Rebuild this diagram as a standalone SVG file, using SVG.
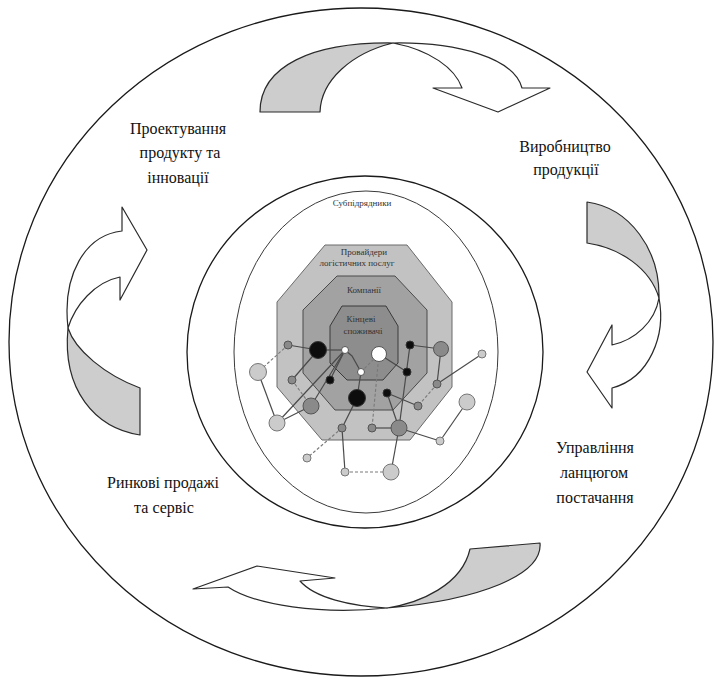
<svg xmlns="http://www.w3.org/2000/svg" width="715" height="680" viewBox="0 0 715 680">
  <defs>
    <style>
      .ring { fill: none; stroke: #1a1a1a; stroke-width: 1.3; }
      .ring-thin { fill: none; stroke: #3a3a3a; stroke-width: 1; }
      .back { fill: #cdcdcd; stroke: #2a2a2a; stroke-width: 1.2; stroke-linejoin: round; }
      .front { fill: #ffffff; stroke: #2a2a2a; stroke-width: 1.2; stroke-linejoin: round; }
      .label { font-family: "Liberation Serif", "Times New Roman", serif; font-size: 16px; fill: #111; text-anchor: middle; }
      .small { font-family: "Liberation Serif", "Times New Roman", serif; font-size: 9px; fill: #333; text-anchor: middle; }
      .oct1 { fill: #c2c2c2; stroke: #6a6a6a; stroke-width: 1; }
      .oct2 { fill: #a2a2a2; stroke: #4a4a4a; stroke-width: 1; }
      .oct3 { fill: #8d8d8d; stroke: #3a3a3a; stroke-width: 1; }
      .link { stroke: #4a4a4a; stroke-width: 1.2; fill: none; }
      .dash { stroke: #7a7a7a; stroke-width: 1.1; fill: none; stroke-dasharray: 3 2; }
      .n-black { fill: #0d0d0d; stroke: #333; stroke-width: 1; }
      .n-white { fill: #ffffff; stroke: #555; stroke-width: 1; }
      .n-mid { fill: #8a8a8a; stroke: #555; stroke-width: 1; }
      .n-light { fill: #cbcbcb; stroke: #777; stroke-width: 1; }
    </style>
  </defs>

  <rect width="715" height="680" fill="#ffffff"/>

  <!-- outer boundary -->
  <ellipse class="ring" cx="361" cy="342" rx="352" ry="334"/>

  <!-- cycle arrows -->
  <g id="arrow-top">
    <path class="back" d="M260,112 C260,66 312,42 393,43 C352,53 321,80 320,112 Z"/>
    <path class="front" d="M393,43 C458,42 514,58 522,88 L550,88 L498,112 L433,88 L462,88 C455,68 430,50 393,43 Z"/>
  </g>
  <g id="arrow-right">
    <path class="back" d="M587,202 L587,243 C620,248 650,268 659,298 C660,250 630,208 587,202 Z"/>
    <path class="front" d="M659,298 C666,335 650,378 612,388 L612,408 L587,372 L612,325 L612,345 C635,340 655,322 659,298 Z"/>
  </g>
  <g id="arrow-bottom">
    <path class="back" d="M470,549 L540,543 C543,575 480,600 387,608 C420,603 462,585 470,549 Z"/>
    <path class="front" d="M387,608 C320,615 255,605 228,587 L193,589 L257,566 L335,578 L300,581 C315,598 350,606 387,608 Z"/>
  </g>
  <g id="arrow-left">
    <path class="back" d="M140,388 L140,435 C95,428 62,390 68,328 C75,350 105,375 140,388 Z"/>
    <path class="front" d="M68,328 C62,275 85,235 122,231 L122,207 L147,250 L120,300 L120,277 C95,282 75,305 68,328 Z"/>
  </g>

  <!-- stage labels -->
  <g id="stage-design">
    <text class="label" x="178" y="134">Проектування</text>
    <text class="label" x="180" y="158">продукту та</text>
    <text class="label" x="178" y="183">інновації</text>
  </g>
  <g id="stage-production">
    <text class="label" x="565" y="152">Виробництво</text>
    <text class="label" x="566" y="175">продукції</text>
  </g>
  <g id="stage-supply">
    <text class="label" x="595" y="453">Управління</text>
    <text class="label" x="594" y="478">ланцюгом</text>
    <text class="label" x="595" y="503">постачання</text>
  </g>
  <g id="stage-sales">
    <text class="label" x="163" y="488">Ринкові продажі</text>
    <text class="label" x="164" y="513">та сервіс</text>
  </g>

  <!-- network core -->
  <g id="ring-middle">
    <ellipse class="ring" cx="365" cy="352" rx="178" ry="176"/>
  </g>
  <g id="ring-subcontractors">
    <ellipse class="ring-thin" cx="366" cy="352" rx="132" ry="161"/>
    <text class="small" x="362" y="206" fill="#555">Субпідрядники</text>
  </g>
  <g id="tier-logistics">
    <polygon class="oct1" points="325,245 407,245 452,302 452,387 410,440 322,440 277,387 277,302"/>
    <text class="small" x="364" y="255">Провайдери</text>
    <text class="small" x="357" y="266">логістичних послуг</text>
  </g>
  <g id="tier-companies">
    <polygon class="oct2" points="337,276 395,276 427,310 427,373 393,410 335,410 303,373 303,310"/>
    <text class="small" x="364" y="293">Компанії</text>
  </g>
  <g id="tier-consumers">
    <polygon class="oct3" points="342,306 386,306 398,326 398,363 383,380 347,380 330,363 330,326"/>
    <text class="small" x="361" y="322">Кінцеві</text>
    <text class="small" x="363" y="334">споживачі</text>
  </g>

  <!-- links between network members -->
  <g id="connectors">
    <line class="link" x1="288" y1="345" x2="318" y2="350"/>
    <line class="link" x1="318" y1="350" x2="345" y2="350"/>
    <line class="link" x1="258" y1="372" x2="277" y2="423"/>
    <line class="link" x1="318" y1="350" x2="292" y2="380"/>
    <line class="link" x1="345" y1="350" x2="277" y2="423"/>
    <line class="link" x1="345" y1="350" x2="311" y2="406"/>
    <line class="link" x1="345" y1="350" x2="330" y2="380"/>
    <line class="link" x1="277" y1="423" x2="311" y2="406"/>
    <polyline class="link" points="345,350 352,356 361,372"/>
    <line class="link" x1="379" y1="354" x2="407" y2="372"/>
    <line class="link" x1="361" y1="372" x2="357" y2="398"/>
    <line class="link" x1="357" y1="398" x2="342" y2="428"/>
    <line class="link" x1="342" y1="428" x2="345" y2="472"/>
    <line class="link" x1="372" y1="428" x2="399" y2="428"/>
    <line class="link" x1="399" y1="428" x2="440" y2="441"/>
    <line class="link" x1="440" y1="441" x2="467" y2="402"/>
    <line class="link" x1="387" y1="393" x2="418" y2="406"/>
    <line class="link" x1="387" y1="393" x2="399" y2="428"/>
    <line class="link" x1="399" y1="428" x2="391" y2="472"/>
    <line class="link" x1="410" y1="345" x2="399" y2="428"/>
    <line class="link" x1="410" y1="345" x2="441" y2="349"/>
    <line class="link" x1="441" y1="349" x2="437" y2="384"/>
    <line class="link" x1="437" y1="384" x2="482" y2="354"/>
    <line class="dash" x1="288" y1="345" x2="258" y2="372"/>
    <line class="dash" x1="292" y1="380" x2="311" y2="406"/>
    <line class="dash" x1="361" y1="372" x2="379" y2="354"/>
    <line class="dash" x1="379" y1="354" x2="372" y2="428"/>
    <line class="dash" x1="342" y1="428" x2="307" y2="458"/>
    <line class="dash" x1="345" y1="472" x2="391" y2="472"/>
    <line class="dash" x1="437" y1="384" x2="418" y2="406"/>
  </g>

  <!-- network members -->
  <g id="members">
    <circle class="n-mid" cx="288" cy="345" r="4"/>
    <circle class="n-black" cx="318" cy="350" r="8.5"/>
    <circle class="n-white" cx="345" cy="350" r="3.5"/>
    <circle class="n-white" cx="379" cy="354" r="7.5"/>
    <circle class="n-white" cx="361" cy="372" r="3.5"/>
    <circle class="n-black" cx="410" cy="345" r="4"/>
    <circle class="n-mid" cx="441" cy="349" r="7.5"/>
    <circle class="n-light" cx="482" cy="354" r="4"/>
    <circle class="n-light" cx="258" cy="372" r="8.5"/>
    <circle class="n-mid" cx="292" cy="380" r="4"/>
    <circle class="n-black" cx="330" cy="380" r="4"/>
    <circle class="n-black" cx="407" cy="372" r="4"/>
    <circle class="n-mid" cx="437" cy="384" r="4"/>
    <circle class="n-black" cx="357" cy="398" r="8.5"/>
    <circle class="n-black" cx="387" cy="393" r="4"/>
    <circle class="n-mid" cx="311" cy="406" r="8"/>
    <circle class="n-light" cx="467" cy="402" r="8"/>
    <circle class="n-mid" cx="418" cy="406" r="4"/>
    <circle class="n-light" cx="277" cy="423" r="8"/>
    <circle class="n-mid" cx="342" cy="428" r="4"/>
    <circle class="n-mid" cx="372" cy="428" r="4"/>
    <circle class="n-mid" cx="399" cy="428" r="8"/>
    <circle class="n-light" cx="440" cy="441" r="4"/>
    <circle class="n-light" cx="307" cy="458" r="4"/>
    <circle class="n-light" cx="345" cy="472" r="4"/>
    <circle class="n-light" cx="391" cy="472" r="8"/>
  </g>
</svg>
